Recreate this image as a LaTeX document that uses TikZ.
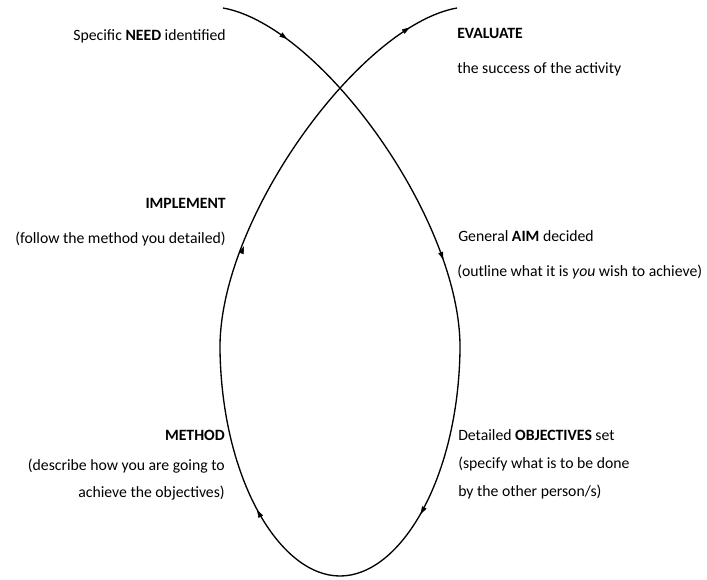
\documentclass[tikz,border=0pt]{standalone}
\usepackage{amsmath}
\usepackage{amssymb}
\usepackage{fontspec}
\setmainfont{Carlito}
\usepackage{tikz}

\tikzset{
  lbl/.style={inner sep=0pt, font=\fontsize{11.8}{14}\selectfont, text height=8pt, text depth=2.4pt},
  tipmark/.style={fill=black, draw=black, line width=0.4}
}

\begin{document}
\begin{tikzpicture}[x=0.75pt,y=0.75pt,yscale=-1,xscale=1]
\useasboundingbox (0,0) rectangle (707,579);

%Curve Lines (right lobe)
\draw [line width=1]   (223,8) .. controls (320,25) and (462,220) .. (460,350) .. controls (458,480) and (400,576) .. (340,576) ;
%Curve Lines (left lobe)
\draw [line width=1]   (340,576) .. controls (280,576) and (222,480) .. (220,350) .. controls (218,220) and (360,25) .. (457,8) ;

%Arrow tips along the loop
\draw [tipmark, shift={(285.2,37.6)}, rotate = 36.2] (1.5,0) -- (-5,2.2) -- (-5,-2.2) -- cycle ;
\draw [tipmark, shift={(442.5,257.4)}, rotate = 70.4] (1.5,0) -- (-5,2.2) -- (-5,-2.2) -- cycle ;
\draw [tipmark, shift={(421.8,512)}, rotate = 118.8] (1.5,0) -- (-5,2.2) -- (-5,-2.2) -- cycle ;
\draw [tipmark, shift={(258.2,512)}, rotate = 241.2] (1.5,0) -- (-5,2.2) -- (-5,-2.2) -- cycle ;
\draw [tipmark, shift={(243.1,248.4)}, rotate = -69.1] (1.5,0) -- (-5,2.2) -- (-5,-2.2) -- cycle ;
\draw [tipmark, shift={(407.7,28.8)}, rotate = -32.4] (1.5,0) -- (-5,2.2) -- (-5,-2.2) -- cycle ;

% Left labels
\node [lbl, anchor=east] (need) at (226,37) {Specific \textbf{NEED} identified};
\node [lbl, anchor=east] (implement) at (226,205) {\textbf{IMPLEMENT}};
\node [lbl, anchor=east] (follow) at (226,240) {(follow the method you detailed)};
\node [lbl, anchor=east] (method) at (225,437) {\textbf{METHOD}};
\node [lbl, anchor=east] (describe) at (225,467) {(describe how you are going to};
\node [lbl, anchor=east] (achieve) at (225,494) {achieve the objectives)};

% Right labels
\node [lbl, anchor=west] (evaluate) at (457,35) {\textbf{EVALUATE}};
\node [lbl, anchor=west] (success) at (457,70) {the success of the activity};
\node [lbl, anchor=west] (aim) at (458,238) {General \textbf{AIM} decided};
\node [lbl, anchor=west] (outline) at (457,273) {(outline what it is \textit{you} wish to achieve)};
\node [lbl, anchor=west] (detailed) at (458,437) {Detailed \textbf{OBJECTIVES} set};
\node [lbl, anchor=west] (specify) at (458,465) {(specify what is to be done};
\node [lbl, anchor=west] (others) at (458,493) {by the other person/s)};

\end{tikzpicture}
\end{document}
